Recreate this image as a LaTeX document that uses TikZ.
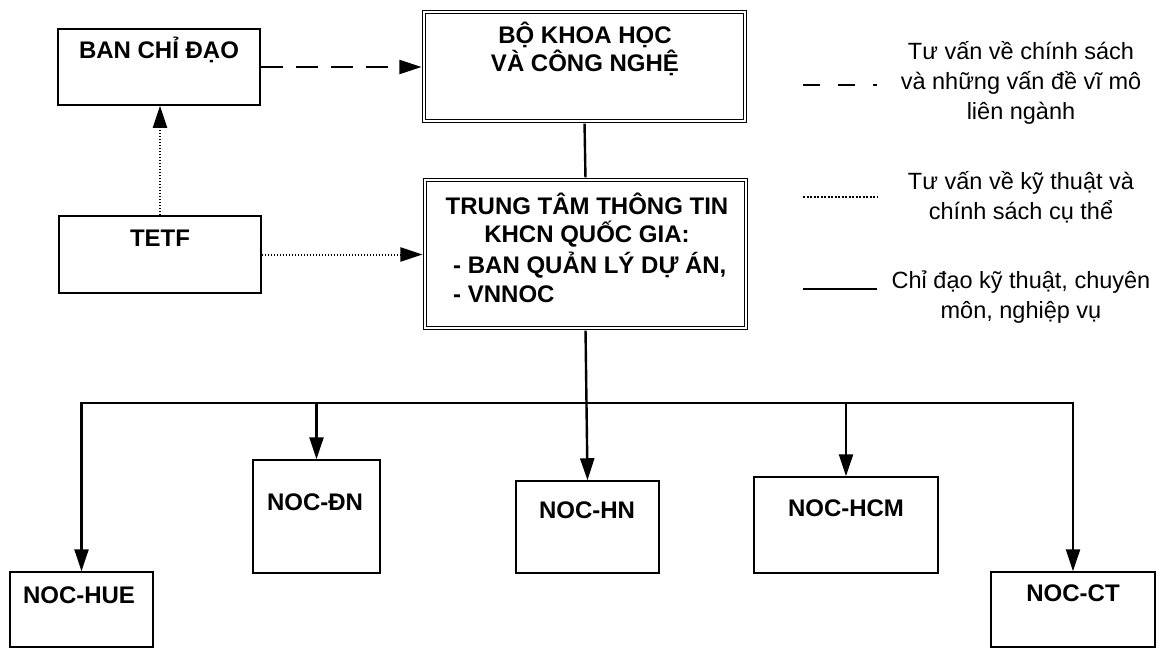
\documentclass[tikz,border=0pt]{standalone}
\usepackage{fontspec}
\setmainfont{Liberation Sans}
\usetikzlibrary{arrows.meta}
\begin{document}
\begin{tikzpicture}[x=1pt,y=-1pt,
  box/.style={draw, line width=1.5pt, inner sep=0pt},
  dbox/.style={draw, line width=1.1pt, double, double distance=2pt, inner sep=0pt},
  btxt/.style={font=\fontsize{24}{28.5}\selectfont\bfseries, align=center, inner sep=0pt},
  ltxt/.style={font=\fontsize{23.5}{30}\selectfont, align=center, inner sep=0pt},
  tip/.style={-{Triangle[length=22pt,width=14pt]}},
  solidc/.style={line width=2.4pt},
  dashc/.style={line width=2.2pt, dash pattern=on 22pt off 13pt},
  dotc/.style={line width=2pt, dash pattern=on 1.6pt off 1.4pt},
]
\useasboundingbox (0,0) rectangle (1173,648);

% boxes
\node[box, minimum width=202pt, minimum height=76pt] (ban) at (159,67) {};
\node[box, minimum width=202pt, minimum height=77pt] (tetf) at (160,254.5) {};
\node[dbox, minimum width=321pt, minimum height=109pt] (bkh) at (584.5,66.5) {};
\node[dbox, minimum width=321pt, minimum height=148pt] (ttt) at (585.5,254) {};
\node[box, minimum width=143pt, minimum height=75pt] (hue) at (81.5,609.5) {};
\node[box, minimum width=127pt, minimum height=113pt] (dn) at (316.5,516.5) {};
\node[box, minimum width=143pt, minimum height=92pt] (hn) at (587.5,527) {};
\node[box, minimum width=184pt, minimum height=96pt] (hcm) at (846,525) {};
\node[box, minimum width=164pt, minimum height=75pt] (ct) at (1073,609.5) {};

% box texts
\node[btxt] (ban-t) at (159,50) {BAN CHỈ ĐẠO};
\node[btxt] (tetf-t) at (160,238) {TETF};
\node[btxt] (bkh-t) at (585,49) {BỘ KHOA HỌC\\VÀ CÔNG NGHỆ};
\node[btxt] (ttt-t1) at (587,220) {TRUNG TÂM THÔNG TIN\\KHCN QUỐC GIA:};
\node[btxt, align=left, anchor=west] (ttt-t2) at (453,277.5) {- BAN QUẢN LÝ DỰ ÁN,\\- VNNOC};
\node[btxt] (hue-t) at (79,595) {NOC-HUE};
\node[btxt] (dn-t) at (315,502) {NOC-ĐN};
\node[btxt] (hn-t) at (587,510) {NOC-HN};
\node[btxt] (hcm-t) at (846,508) {NOC-HCM};
\node[btxt] (ct-t) at (1073,593) {NOC-CT};

% connectors
\draw[dashc, tip, shorten >=2pt] (ban.east) -- (ban.east -| bkh.west);
\draw[dotc, tip] (tetf.north) -- (tetf.north |- ban.south);
\draw[dotc, tip, shorten >=2pt] (tetf.east) -- (tetf.east -| ttt.west);
\draw[solidc, shorten <=2pt, shorten >=2pt] (bkh.south) -- (ttt.north);

\coordinate (bus) at (586,403);
\draw[solidc, tip, shorten <=2pt] (ttt.south) -- (hn.north);
\draw[solidc, tip] (bus) -| (hue.north);
\draw[solidc, tip] (bus) -| (ct.north);
\draw[solidc, tip] (bus -| dn.north) -- (dn.north);
\draw[solidc, tip] (bus -| hcm.north) -- (hcm.north);

% legend
\coordinate (l1a) at (803,85); \coordinate (l1b) at (877,85);
\coordinate (l2a) at (803,197); \coordinate (l2b) at (877,197);
\coordinate (l3a) at (803,289); \coordinate (l3b) at (877,289);
\draw[line width=2pt, dash pattern=on 17pt off 18pt] (l1a) -- (l1b);
\draw[line width=1.3pt, dash pattern=on 2pt off 1.5pt] (l2a) -- (l2b);
\draw[solidc] (l3a) -- (l3b);
\node[ltxt] (leg1) at (1021,83) {Tư vấn về chính sách\\và những vấn đề vĩ mô\\liên ngành};
\node[ltxt] (leg2) at (1021,197) {Tư vấn về kỹ thuật và\\chính sách cụ thể};
\node[ltxt] (leg3) at (1021,297) {Chỉ đạo kỹ thuật, chuyên\\môn, nghiệp vụ};
\end{tikzpicture}
\end{document}
